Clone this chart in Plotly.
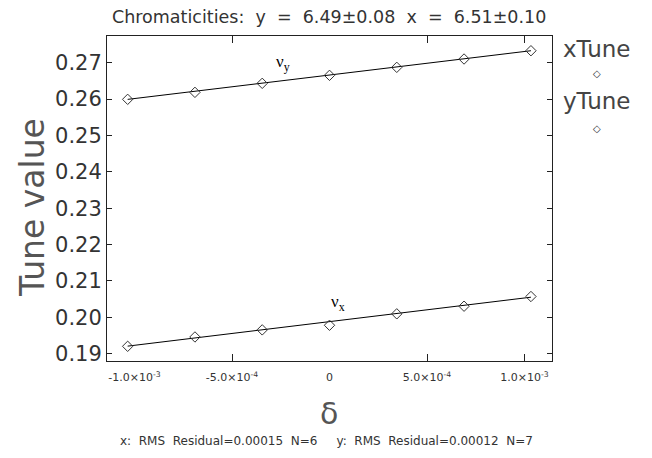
import plotly.graph_objects as go

# ---- data ----
delta = [-1.035e-3, -0.690e-3, -0.345e-3, 0.0, 0.345e-3, 0.690e-3, 1.033e-3]
nu_y = [0.25993, 0.26185, 0.26433, 0.26653, 0.26873, 0.27102, 0.27330]
nu_x = [0.19200, 0.19457, 0.19652, 0.19779, 0.20093, 0.20303, 0.20570]

fit_delta = [-1.035e-3, 1.033e-3]
fit_nu_y = [0.25992, 0.27330]
fit_nu_x = [0.19205, 0.20551]

x_tick_vals = [-1.0e-3, -5.0e-4, 0.0, 5.0e-4, 1.0e-3]
x_tick_text = ["-1.0×10<sup>-3</sup>", "-5.0×10<sup>-4</sup>", "0",
               "5.0×10<sup>-4</sup>", "1.0×10<sup>-3</sup>"]
x_tick_marks = [-5.0e-4, 5.0e-4, 1.0e-3]
y_tick_vals = [0.19, 0.20, 0.21, 0.22, 0.23, 0.24, 0.25, 0.26, 0.27]

NB = "\u00a0"
title_text = ("Chromaticities:" + NB * 2 + "y" + NB * 2 + "=" + NB * 2 + "6.49±0.08"
              + NB * 2 + "x" + NB * 2 + "=" + NB * 2 + "6.51±0.10")
footer_text = ("x:" + NB * 2 + "RMS" + NB * 2 + "Residual=0.00015" + NB * 2 + "N=6"
               + NB * 5 + "y:" + NB * 2 + "RMS" + NB * 2 + "Residual=0.00012" + NB * 2 + "N=7")

FONT = "DejaVu Sans"
INK = "#222222"

fig = go.Figure()
fig.add_trace(go.Scatter(x=fit_delta, y=fit_nu_y, mode="lines",
                         line=dict(color="black", width=1), showlegend=False,
                         hoverinfo="skip"))
fig.add_trace(go.Scatter(x=fit_delta, y=fit_nu_x, mode="lines",
                         line=dict(color="black", width=1), showlegend=False,
                         hoverinfo="skip"))
fig.add_trace(go.Scatter(x=delta, y=nu_x, mode="markers", name="xTune",
                         marker=dict(symbol="diamond-open", size=8, color="#333",
                                     line=dict(width=1, color="#333")),
                         showlegend=False))
fig.add_trace(go.Scatter(x=delta, y=nu_y, mode="markers", name="yTune",
                         marker=dict(symbol="diamond-open", size=8, color="#333",
                                     line=dict(width=1, color="#333")),
                         showlegend=False))
# invisible carrier trace so the tick-mark overlay axis is drawn
fig.add_trace(go.Scatter(x=fit_delta, y=fit_nu_y, xaxis="x2", mode="lines",
                         line=dict(width=0), opacity=0, showlegend=False,
                         hoverinfo="skip"))

W, H = 652, 458
L, R, T, B = 107, 100, 36, 97
pw, ph = W - L - R, H - T - B


def px(xp):
    return (xp - L) / pw


def py(yp):
    return (H - B - yp) / ph


XR = [-1.141e-3, 1.141e-3]

fig.update_layout(
    width=W, height=H,
    margin=dict(l=L, r=R, t=T, b=B),
    paper_bgcolor="white", plot_bgcolor="white",
    font=dict(family=FONT, color=INK),
    showlegend=False,
    xaxis=dict(range=XR, tickmode="array",
               tickvals=x_tick_vals, ticktext=x_tick_text,
               ticks="", showgrid=False, zeroline=False,
               showline=True, linecolor="#222", linewidth=1, mirror=True,
               tickfont=dict(size=11, color="#333"), ticklabelstandoff=6),
    xaxis2=dict(range=XR, overlaying="x", anchor="y", side="bottom",
                tickmode="array", tickvals=x_tick_marks, showticklabels=False,
                ticks="inside", ticklen=7, tickcolor="#222", tickwidth=1,
                showgrid=False, zeroline=False,
                showline=True, linecolor="#222", linewidth=1, mirror="ticks"),
    yaxis=dict(range=[0.18796, 0.27735], tickmode="array",
               tickvals=y_tick_vals, tickformat=".2f",
               ticks="inside", ticklen=5, tickcolor="#222", tickwidth=1,
               showgrid=False, zeroline=False,
               showline=True, linecolor="#222", linewidth=1, mirror="ticks",
               tickfont=dict(size=21, color="#333")),
)

annotations = [
    dict(text=title_text, x=px(329), y=py(17), xref="paper", yref="paper",
         showarrow=False, font=dict(size=17.5, color="#333"), xanchor="center", yanchor="middle"),
    dict(text="Tune value", x=px(33), y=py(208), xref="paper", yref="paper",
         textangle=-90, showarrow=False, font=dict(size=33, color="#555"),
         xanchor="center", yanchor="middle"),
    dict(text="δ", x=px(329), y=py(413), xref="paper", yref="paper",
         showarrow=False, font=dict(size=30, color="#555"), xanchor="center", yanchor="middle"),
    dict(text=footer_text, x=px(326), y=py(441), xref="paper", yref="paper",
         showarrow=False, font=dict(size=12, color="#333"), xanchor="center", yanchor="middle"),
    dict(text="ν<sub>y</sub>", x=-0.24e-3, y=0.2700, xref="x", yref="y",
         showarrow=False, font=dict(size=17, family="Liberation Serif", color="black"),
         xanchor="center", yanchor="middle"),
    dict(text="ν<sub>x</sub>", x=0.045e-3, y=0.2038, xref="x", yref="y",
         showarrow=False, font=dict(size=17, family="Liberation Serif", color="black"),
         xanchor="center", yanchor="middle"),
    dict(text="xTune", x=px(596), y=py(49), xref="paper", yref="paper",
         showarrow=False, font=dict(size=23, color="#444"), xanchor="center", yanchor="middle"),
    dict(text="◇", x=px(597), y=py(73), xref="paper", yref="paper",
         showarrow=False, font=dict(size=10, color="#333"), xanchor="center", yanchor="middle"),
    dict(text="yTune", x=px(596), y=py(101), xref="paper", yref="paper",
         showarrow=False, font=dict(size=23, color="#444"), xanchor="center", yanchor="middle"),
    dict(text="◇", x=px(597), y=py(128), xref="paper", yref="paper",
         showarrow=False, font=dict(size=10, color="#333"), xanchor="center", yanchor="middle"),
]
fig.update_layout(annotations=annotations)

fig.write_html("out.html", config={"displayModeBar": False},
               post_script="document.body.style.margin='0';")
